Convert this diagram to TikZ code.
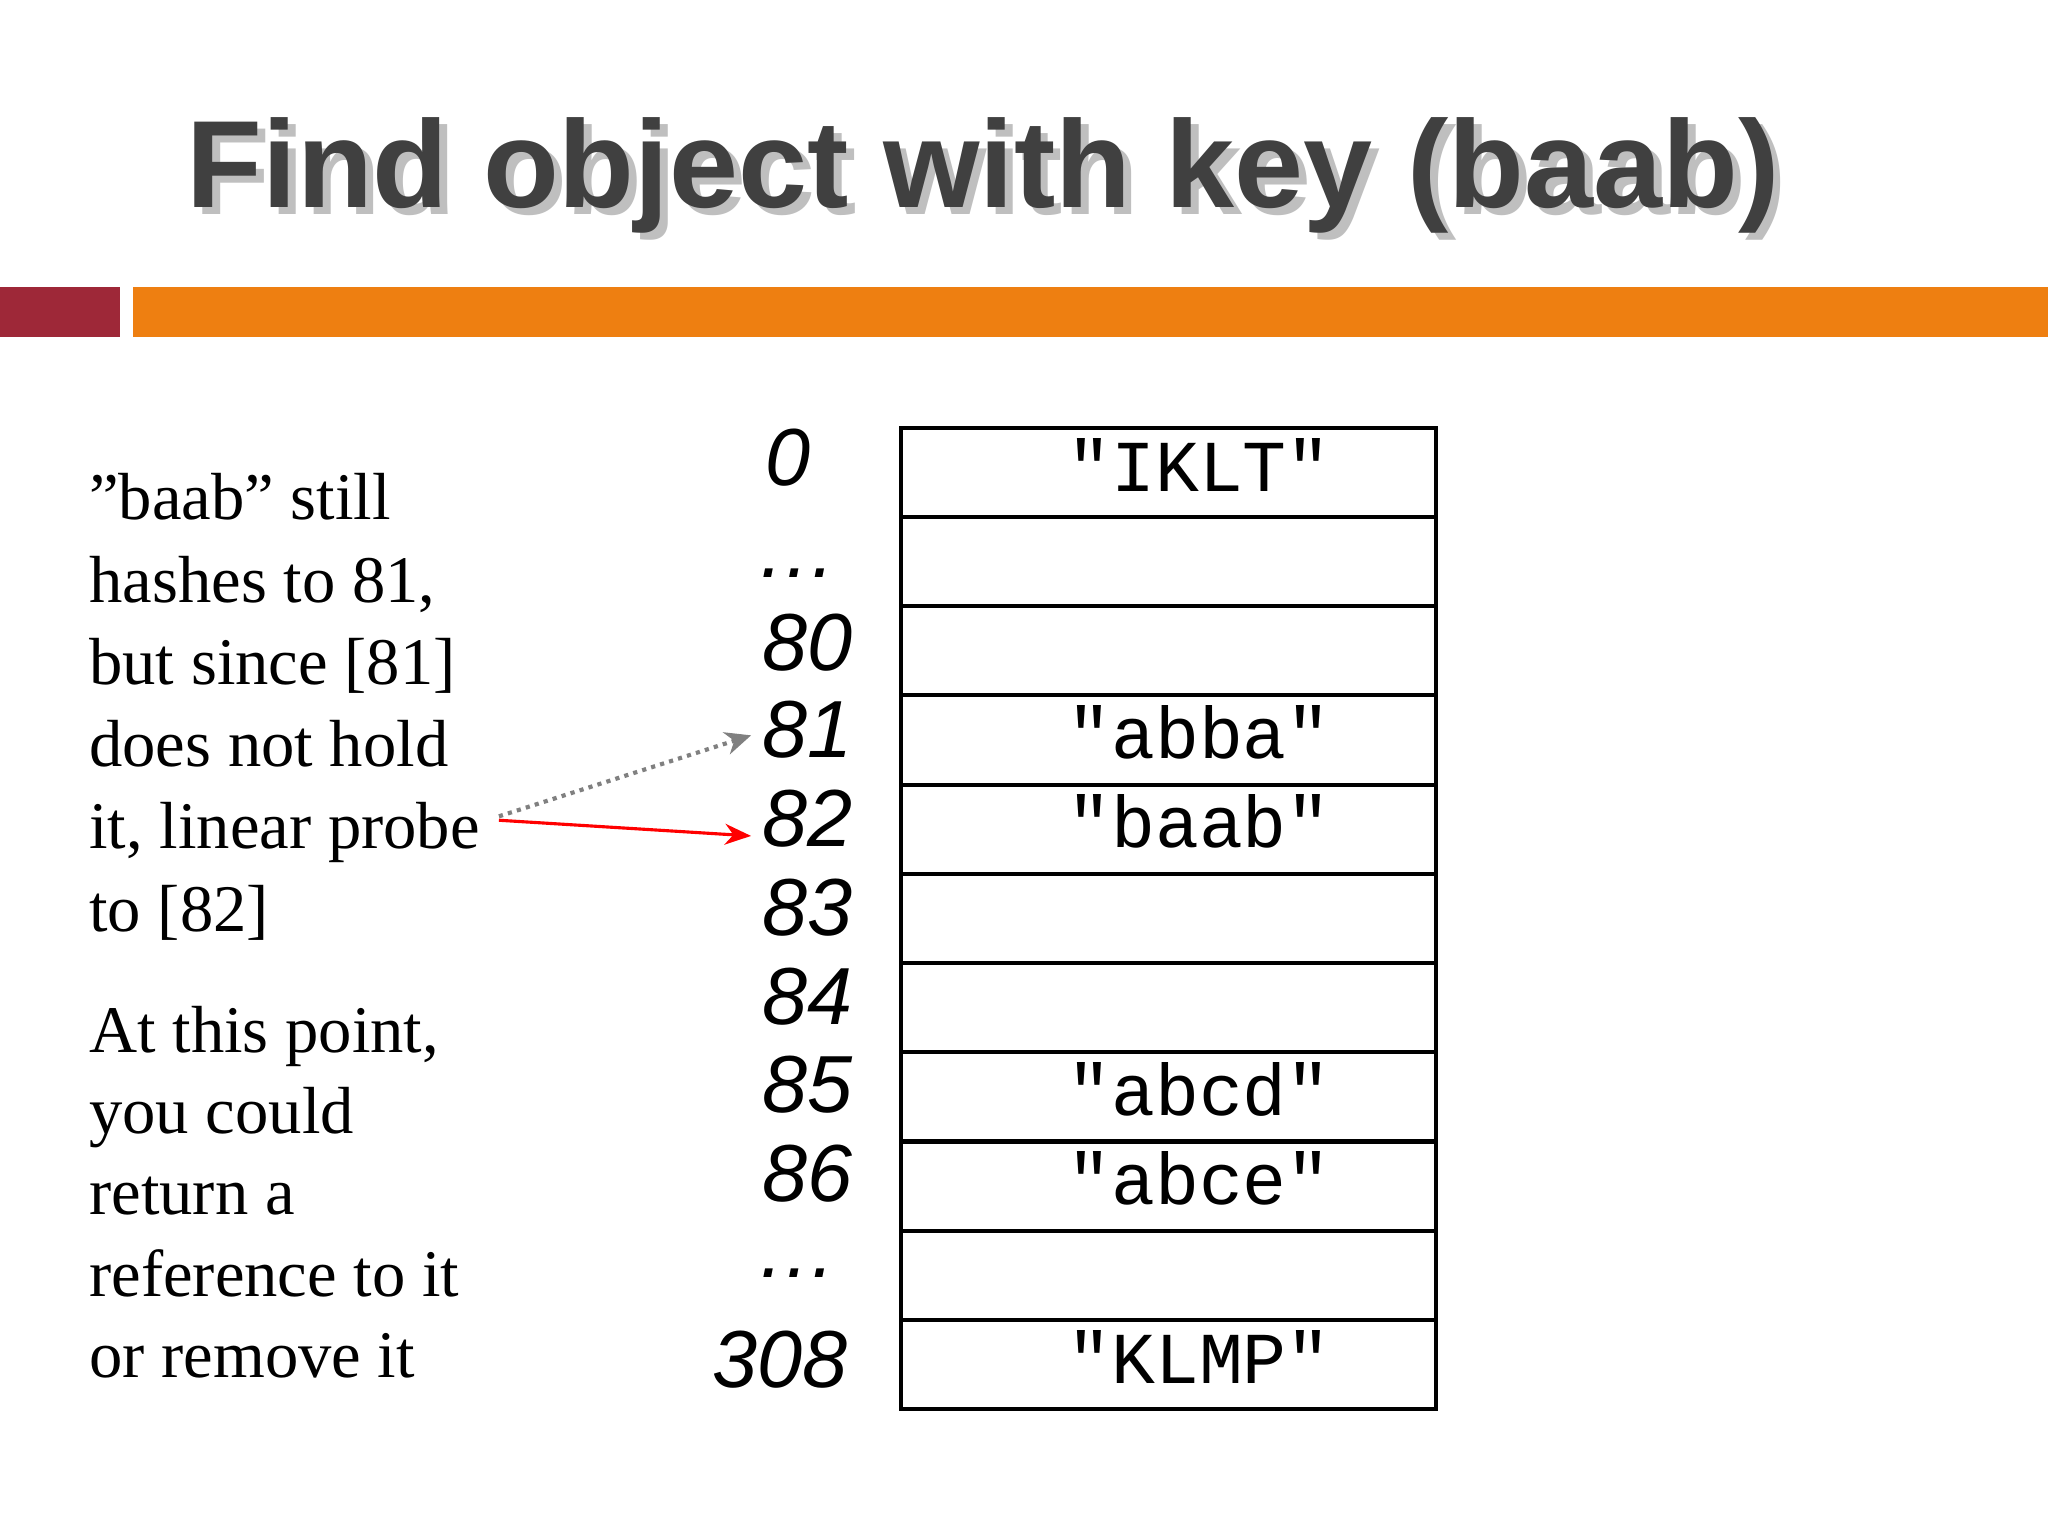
\documentclass[tikz,border=0pt]{standalone}
\usepackage{fontspec}
\setmainfont{Liberation Serif}[Ligatures=ResetAll]
\setsansfont{Liberation Sans}
\setmonofont{Liberation Mono}
\usetikzlibrary{arrows.meta}
\definecolor{barred}{RGB}{158,40,56}
\definecolor{barorange}{RGB}{238,127,17}
\definecolor{titlegray}{RGB}{64,64,64}
\tikzset{
  cell/.style={draw=black,line width=1.5pt,minimum width=205pt,minimum height=34.2pt,inner sep=0pt,anchor=north west},
  celltext/.style={font=\ttfamily\fontsize{28}{28}\selectfont,anchor=base},
  idx/.style={font=\sffamily\itshape\fontsize{31}{31}\selectfont,anchor=base east},
  body/.style={font=\fontsize{25.5}{25.5}\selectfont,anchor=base west,inner sep=0pt},
}
\begin{document}
\begin{tikzpicture}[x=0.5pt,y=-0.5pt]
\useasboundingbox (0,0) rectangle (1568,1176);
\fill[white] (0,0) rectangle (1568,1176);
% title
\node[font=\sffamily\bfseries\fontsize{47.5}{47.5}\selectfont,text=black!25,anchor=base west] at (142,164) {Find object with key (baab)};
\node (title) [font=\sffamily\bfseries\fontsize{47.5}{47.5}\selectfont,text=titlegray,anchor=base west] at (136,159) {Find object with key (baab)};
% bars
\fill[barred] (0,220) rectangle (92,258);
\fill[barorange] (102,220) rectangle (1568,258);
% table
\foreach \i/\txt in {0/\symbol{34}IKLT\symbol{34},1/,2/,3/\symbol{34}abba\symbol{34},4/\symbol{34}baab\symbol{34},5/,6/,7/\symbol{34}abcd\symbol{34},8/\symbol{34}abce\symbol{34},9/,10/\symbol{34}KLMP\symbol{34}}{
  \node[cell] (r\i) at (688,{326+68.3*\i}) {};
  \node[celltext] (t\i) at (918,{326+68.3*\i+50}) {\txt};
}
\node[idx] (l0) at (628,372) {0};
\node[idx] (l1) at (648,442) {\dots};
\node[idx] (l2) at (660,513) {80};
\node[idx] (l3) at (660,580) {81};
\node[idx] (l4) at (660,648) {82};
\node[idx] (l5) at (660,716) {83};
\node[idx] (l6) at (660,784) {84};
\node[idx] (l7) at (660,852) {85};
\node[idx] (l8) at (660,920) {86};
\node[idx] (l9) at (648,978) {\dots};
\node[idx] (l10) at (656,1062) {308};
% text
\node[body] (a1) at (68,398) {"baab" still};
\node[body] (a2) at (68,461) {hashes to 81,};
\node[body] (a3) at (68,524) {but since [81]};
\node[body] (a4) at (68,587) {does not hold};
\node[body] (a5) at (68,650) {it, linear probe};
\node[body] (a6) at (68,713) {to [82]};
\node[body] (b1) at (68,806) {At this point,};
\node[body] (b2) at (68,868) {you could};
\node[body] (b3) at (68,930) {return a};
\node[body] (b4) at (68,993) {reference to it};
\node[body] (b5) at (68,1055) {or remove it};
\coordinate (s1) at (382,625);
\coordinate (s2) at (382,628);
\coordinate (e1) at (575,563);
\coordinate (e2) at (575,640);
\draw[gray,dotted,line width=1.6pt,-{Stealth[length=10pt,width=9pt,line width=0pt,sep=0pt]}] (s1) -- (e1);
\draw[red,line width=1.2pt,-{Stealth[length=10pt,width=8pt]}] (s2) -- (e2);
\end{tikzpicture}
\end{document}
